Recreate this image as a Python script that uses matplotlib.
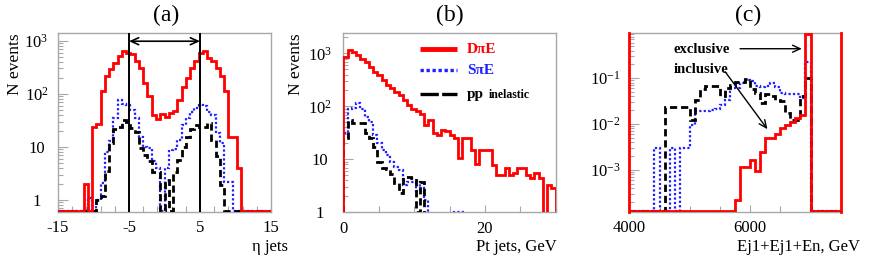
import numpy as np
import matplotlib
matplotlib.use("Agg")
import matplotlib.pyplot as plt
from matplotlib.ticker import (FixedLocator, MultipleLocator, LogLocator,
                               FuncFormatter, NullFormatter)

plt.rcParams['font.family'] = 'serif'
plt.rcParams['font.serif'] = ['Liberation Serif', 'DejaVu Serif']
plt.rcParams['mathtext.fontset'] = 'custom'
plt.rcParams['mathtext.rm'] = 'Liberation Serif'
plt.rcParams['mathtext.it'] = 'Liberation Serif:italic'
plt.rcParams['mathtext.bf'] = 'Liberation Serif:bold'
plt.rcParams['axes.unicode_minus'] = False

# -----------------------------
# data
# -----------------------------
# (a) eta of jets, 50 bins from -15 to 15
eta_edges = np.linspace(-15, 15, 51)
eta_dpe = [0, 0, 0, 0, 0, 0, 2, 0, 24, 27,
           115, 220, 290, 380, 520, 650, 600, 560, 420, 300,
           160, 89, 40, 34, 42, 36, 44, 48, 77, 137,
           200, 310, 420, 600, 650, 480, 420, 310, 220, 115,
           15, 15, 4, 0, 0, 0, 0, 0, 0, 0]
eta_spe = [0, 0, 0, 0, 0, 0, 0, 1.1, 0, 1,
           2.1, 8, 12.6, 35, 77, 65, 62, 50, 35, 15.6,
           10, 9.5, 5.5, 4, 0, 4, 8.8, 9, 13.5, 26,
           35, 46, 55, 62, 58, 46, 40, 18, 11.7, 2.2,
           2.2, 0, 0, 0, 0, 0, 0, 0, 0, 0]
eta_pp = [0, 0, 0, 0, 0, 0, 0, 0, 0, 1,
          1.2, 3.5, 11.7, 22, 24, 32, 30, 22.6, 19, 9.5,
          7, 5.3, 3.4, 3.4, 0, 2.4, 0, 3.4, 5.7, 10,
          15.6, 22, 26, 24, 24, 28, 13.5, 6.6, 1.9, 0,
          0, 0, 0, 0, 0, 0, 0, 0, 0, 0]
eta_cuts = [-5, 5]

# (b) Pt of jets, 50 bins from 0 to 30 GeV
pt_edges = np.linspace(0, 30, 51)
pt_dpe = [865, 1150, 1080, 930, 800, 680, 560, 450, 390, 315,
          250, 220, 190, 163, 130, 105, 91, 81, 73, 44,
          55, 32, 29, 36, 35, 29, 25, 10.4, 25, 25,
          15, 8, 15, 15, 15, 7.8, 5, 5, 7, 5,
          5.5, 6.8, 7, 5, 4.4, 5.5, 4.4, 0, 3.3, 2.9]
pt_spe = [31, 91, 95, 114, 91, 63, 51, 28.7, 20, 15,
          12, 9, 7.3, 6.2, 3.3, 3.8, 3.8, 2.5, 3.8, 1.7,
          0, 0, 0, 0, 0, 0, 1, 1, 1, 0,
          0, 0, 0, 0, 0, 0, 0, 0, 0, 0,
          0, 0, 0, 0, 0, 0, 0, 0, 0, 0]
pt_pp = [25, 55, 48, 48, 48, 31, 25, 17, 9, 7,
         6.5, 5.4, 3.5, 2.3, 4.7, 4.7, 4.4, 1, 3.8, 0,
         0, 0, 0, 0, 0, 0, 0, 0, 0, 0,
         0, 0, 0, 0, 0, 0, 0, 0, 0, 0,
         0, 0, 0, 0, 0, 0, 0, 0, 0, 0]

# (c) Ej1+Ej2+En, 42 bins from 4000 to 7500 GeV
e_edges = np.linspace(4000, 7500, 43)
e_dpe = [0, 0, 0, 0, 0, 0, 0, 0, 0, 0,
         0, 0, 0, 0, 0, 0, 0, 0, 0, 0,
         0, 2.2e-4, 1.17e-3, 1.17e-3, 1.66e-3, 9.2e-4, 2.4e-3, 4.9e-3, 4.9e-3, 6.1e-3,
         8.2e-3, 9.6e-3, 1.13e-2, 1.34e-2, 1.6e-2, 0.9, 0, 0, 0, 0,
         0, 0]
e_spe = [0, 0, 0, 0, 0, 3e-3, 0, 0, 3e-3, 0,
         3e-3, 3e-3, 9.6e-3, 1.9e-2, 1.9e-2, 1.9e-2, 2e-2, 2.1e-2, 2.6e-2, 3.4e-2,
         6e-2, 6e-2, 7.8e-2, 9.2e-2, 8.5e-2, 6.6e-2, 6.3e-2, 6.6e-2, 7.8e-2, 6.3e-2,
         4.7e-2, 4.5e-2, 4.5e-2, 4.5e-2, 3.7e-2, 0.23, 0, 0, 0, 0,
         0, 0]
e_pp = [0, 0, 0, 0, 0, 0, 0, 2.3e-2, 2.3e-2, 2.3e-2,
        2.3e-2, 2.3e-2, 1.2e-2, 3.4e-2, 5.7e-2, 6.8e-2, 6.8e-2, 6.8e-2, 4e-2, 6e-2,
        7.1e-2, 8.4e-2, 8.4e-2, 9.5e-2, 5.75e-2, 4.7e-2, 2.85e-2, 4.5e-2, 4e-2, 3.4e-2,
        3.2e-2, 1.7e-2, 1.2e-2, 1.2e-2, 4e-2, 0.1, 0, 0, 0, 0,
        0, 0]

# -----------------------------
# style helpers
# -----------------------------
W, H = 872, 261
FRAME = '#a8a8a8'
RED, BLUE, BLACK = '#ff0000', '#1f1fff', 'black'


def px_axes(fig, l, t, r, b):
    return fig.add_axes([l / W, 1 - b / H, (r - l) / W, (b - t) / H])


def log_label(v, pos):
    e = int(round(np.log10(v)))
    if e == 0:
        return '1'
    if e == 1:
        return '10'
    return r'$10^{%d}$' % e


def style(ax, ylim, ypad):
    ax.set_yscale('log')
    ax.set_ylim(*ylim)
    for s in ax.spines.values():
        s.set_color(FRAME)
        s.set_linewidth(1.0)
    ax.tick_params(which='both', direction='in', color=FRAME, top=False,
                   right=False, labelsize=12, width=0.8)
    ax.tick_params(axis='x', which='major', length=5, pad=6)
    ax.tick_params(axis='x', which='minor', length=4)
    ax.tick_params(axis='y', which='major', length=7, pad=ypad)
    ax.tick_params(axis='y', which='minor', length=3.5)
    ax.yaxis.set_major_locator(LogLocator(base=10, numticks=12))
    ax.yaxis.set_minor_locator(LogLocator(base=10, subs=np.arange(2, 10), numticks=12))
    ax.yaxis.set_major_formatter(FuncFormatter(log_label))
    ax.yaxis.set_minor_formatter(NullFormatter())


def center_ylabels(ax):
    for t in ax.yaxis.get_major_ticks():
        t.label1.set_horizontalalignment('center')


def hist(ax, edges, vals, color, ls, lw, floor=None, baseline=None, z=2):
    v = np.asarray(vals, float)
    if floor is not None:
        v = np.where(v > 0, v, floor)
    ax.stairs(v, edges, color=color, linestyle=ls, linewidth=lw,
              baseline=baseline, zorder=z)


DOT = (0, (1, 1))
DASH = (0, (2.6, 1.4))

fig = plt.figure(figsize=(W / 100, H / 100), dpi=100)

# -----------------------------
# (a) eta jets
# -----------------------------
ax = px_axes(fig, 58, 33, 271, 212)
ylim_a = (0.59, 1400)
style(ax, ylim_a, 15.5)
fl = ylim_a[0] * 1.06
hist(ax, eta_edges, eta_pp, BLACK, DASH, 2.0, floor=fl, z=3)
hist(ax, eta_edges, eta_spe, BLUE, DOT, 1.6, floor=fl, z=2)
hist(ax, eta_edges, eta_dpe, RED, '-', 2.0, floor=fl, z=4)
for c in eta_cuts:
    ax.axvline(c, color='black', lw=1.4, zorder=5)
ax.annotate('', xy=(eta_cuts[1], 980), xytext=(eta_cuts[0], 980),
            arrowprops=dict(arrowstyle='<->,head_length=0.55,head_width=0.25',
                            lw=1.2, color='black', shrinkA=0, shrinkB=0))
ax.set_xlim(-15, 15)
ax.xaxis.set_major_locator(FixedLocator([-15, -5, 5, 15]))
ax.xaxis.set_minor_locator(MultipleLocator(2, offset=1))
ax.set_ylabel('N events', loc='top', fontsize=12.5)
ax.yaxis.set_label_coords(-0.165, 1)
ax.text(1.08, -0.196, 'η jets', transform=ax.transAxes, ha='right',
        va='center', fontsize=12)
ax.text(0.507, 1.10, '(a)', transform=ax.transAxes, ha='center',
        va='center', fontsize=17)
center_ylabels(ax)

# -----------------------------
# (b) Pt jets
# -----------------------------
ax = px_axes(fig, 343.3, 33.3, 555.7, 212.3)
ylim_b = (1, 2400)
style(ax, ylim_b, 17)
hist(ax, pt_edges, pt_pp, BLACK, DASH, 2.0, baseline=ylim_b[0], z=3)
hist(ax, pt_edges, pt_spe, BLUE, DOT, 1.6, baseline=ylim_b[0], z=2)
hist(ax, pt_edges, pt_dpe, RED, '-', 2.0, baseline=ylim_b[0], z=4)
ax.set_xlim(0, 30)
ax.xaxis.set_major_locator(FixedLocator([0, 20]))
ax.xaxis.set_minor_locator(MultipleLocator(5))
ax.set_ylabel('N events', loc='top', fontsize=12.5)
ax.yaxis.set_label_coords(-0.185, 1)
ax.text(1.005, -0.196, 'Pt jets, GeV', transform=ax.transAxes, ha='right',
        va='center', fontsize=12)
ax.text(0.502, 1.10, '(b)', transform=ax.transAxes, ha='center',
        va='center', fontsize=17)
# legend drawn by hand, ROOT style
leg = [('D\u03c0E', RED, '-', 3.5, 0.911),
       ('S\u03c0E', BLUE, (0, (1, 0.8)), 2.4, 0.794),
       ('pp', BLACK, (0, (5.5, 1.0)), 2.4, 0.659)]
for txt, col, ls, lw, yy in leg:
    ax.plot([0.361, 0.534], [yy, yy], transform=ax.transAxes, color=col,
            ls=ls, lw=lw, solid_capstyle='butt', dash_capstyle='butt')
    ax.text(0.581, yy, txt, transform=ax.transAxes, color=col,
            fontsize=11, fontweight='bold', va='center', ha='left')
ax.text(0.685, 0.655, 'inelastic', transform=ax.transAxes, color=BLACK,
        fontsize=8.5, fontweight='bold', va='center', ha='left')
center_ylabels(ax)

# -----------------------------
# (c) Ej1+Ej2+En
# -----------------------------
ax = px_axes(fig, 629.3, 33, 840.7, 212)
ylim_c = (1.2e-4, 0.97)
style(ax, ylim_c, 17)
fl = ylim_c[0] * 1.07
hist(ax, e_edges, e_pp, BLACK, DASH, 2.0, floor=fl, z=3)
hist(ax, e_edges, e_spe, BLUE, DOT, 1.6, floor=fl, z=2)
hist(ax, e_edges, e_dpe, RED, '-', 2.0, floor=fl, z=4)
ax.set_xlim(4000, 7500)
for side in ('left', 'right'):
    ax.spines[side].set_color(RED)
    ax.spines[side].set_linewidth(2.0)
    ax.spines[side].set_zorder(5)
ax.tick_params(axis='y', which='both', color=FRAME)
ax.xaxis.set_major_locator(FixedLocator([4000, 6000]))
ax.xaxis.set_minor_locator(MultipleLocator(500))
ax.text(1.091, -0.196, 'Ej1+Ej1+En, GeV', transform=ax.transAxes,
        ha='right', va='center', fontsize=12)
ax.text(0.561, 1.10, '(c)', transform=ax.transAxes, ha='center',
        va='center', fontsize=17)
ax.text(4730, 0.43, 'exclusive', fontsize=10.5, fontweight='bold',
        va='center', ha='left')
ax.text(4730, 0.152, 'inclusive', fontsize=10.5, fontweight='bold',
        va='center', ha='left')
arr = dict(arrowstyle='->,head_length=0.55,head_width=0.25', lw=1.0,
           color='black', shrinkA=0, shrinkB=0)
ax.annotate('', xy=(6857, 0.44), xytext=(5834, 0.44), arrowprops=arr)
ax.annotate('', xy=(6287, 7.7e-3), xytext=(5586, 0.139), arrowprops=arr)
center_ylabels(ax)

fig.savefig('out.png', dpi=100)
